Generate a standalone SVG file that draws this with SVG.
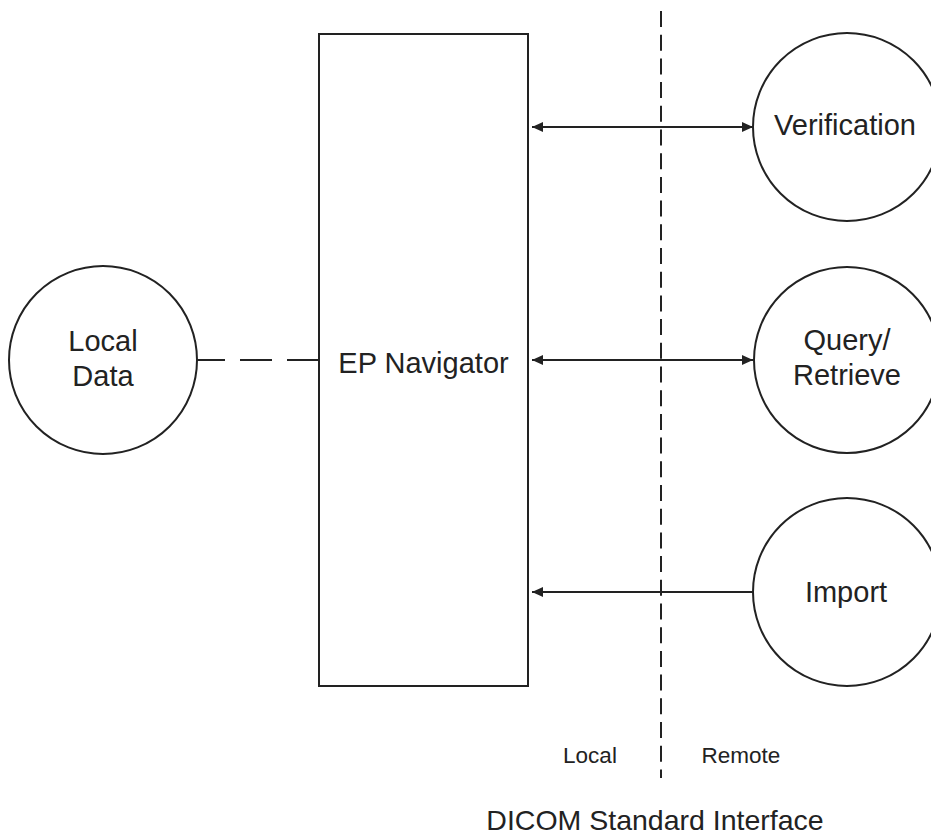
<svg xmlns="http://www.w3.org/2000/svg" width="931" height="836" viewBox="0 0 931 836">
<style>
.shape{fill:#fff;stroke:#222;stroke-width:2}
.lbl{font-family:"Liberation Sans",Arial,sans-serif;font-size:29px;fill:#222;text-anchor:middle}
.small{font-family:"Liberation Sans",Arial,sans-serif;font-size:22.5px;fill:#222;text-anchor:middle}
.conn{stroke:#222;stroke-width:2;fill:none}
</style>
<defs>
<marker id="ah" viewBox="0 0 11 10" refX="11" refY="5" markerWidth="11" markerHeight="10" markerUnits="userSpaceOnUse" orient="auto-start-reverse">
<path d="M0,0 L11,5 L0,10 Z" fill="#222"/>
</marker>
</defs>
<rect width="931" height="836" fill="#fff"/>
<g id="boundary">
<line x1="661" y1="11" x2="661" y2="778" stroke="#222" stroke-width="2" stroke-dasharray="16 7.7"/>
</g>
<g id="connectors">
<line class="conn" x1="319" y1="360" x2="197" y2="360" stroke-dasharray="32 15"/>
<line class="conn" x1="532" y1="127" x2="753" y2="127" marker-start="url(#ah)" marker-end="url(#ah)"/>
<line class="conn" x1="532" y1="360" x2="753" y2="360" marker-start="url(#ah)" marker-end="url(#ah)"/>
<line class="conn" x1="753" y1="592" x2="532" y2="592" marker-end="url(#ah)"/>
</g>
<g id="ep-navigator">
<rect class="shape" x="319" y="34" width="209" height="652"/>
<text class="lbl" x="423.5" y="373">EP Navigator</text>
</g>
<g id="local-data">
<circle class="shape" cx="103" cy="360" r="94"/>
<text class="lbl" x="103" y="351">Local</text>
<text class="lbl" x="103" y="386">Data</text>
</g>
<g id="verification">
<circle class="shape" cx="847" cy="127" r="94"/>
<text class="lbl" x="845" y="135">Verification</text>
</g>
<g id="query-retrieve">
<circle class="shape" cx="847" cy="360" r="93"/>
<text class="lbl" x="847" y="350">Query/</text>
<text class="lbl" x="847" y="385">Retrieve</text>
</g>
<g id="import">
<circle class="shape" cx="847" cy="592" r="94"/>
<text class="lbl" x="846" y="602">Import</text>
</g>
<g id="labels">
<text class="small" x="590" y="763">Local</text>
<text class="small" x="741" y="763">Remote</text>
<text class="lbl" x="655" y="830" style="font-size:28.5px">DICOM Standard Interface</text>
</g>
</svg>
